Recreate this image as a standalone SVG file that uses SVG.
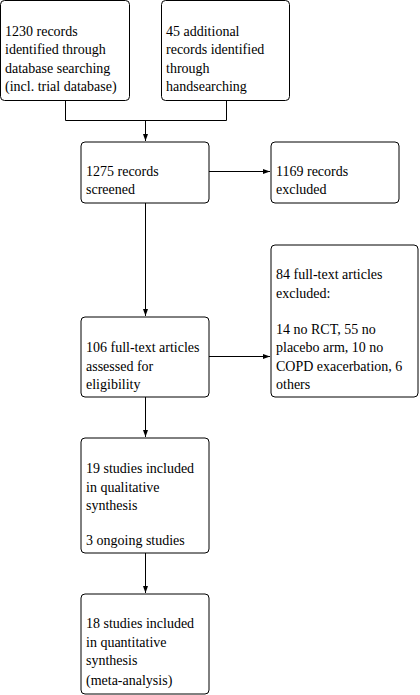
<svg xmlns="http://www.w3.org/2000/svg" width="420" height="695" viewBox="0 0 420 695">
<style>
.box{fill:#fff;stroke:#000;stroke-width:1}
.t{font-family:'Liberation Serif','DejaVu Serif',serif;font-size:14px;fill:#000}
.c{fill:none;stroke:#000;stroke-width:1}
</style>
<defs>
<marker id="ah" markerWidth="8" markerHeight="6" refX="7" refY="3" orient="auto" markerUnits="userSpaceOnUse">
<path d="M0,0.5 L7,3 L0,5.5 Z" fill="#000"/>
</marker>
</defs>
<rect width="420" height="695" fill="#fff"/>
<g id="connectors">
<path class="c" d="M65.5,100 V120.5 H226.5 V100"/>
<path class="c" d="M145.5,120.5 V141" marker-end="url(#ah)"/>
<path class="c" d="M209,171.5 H270" marker-end="url(#ah)"/>
<path class="c" d="M145.5,203 V316" marker-end="url(#ah)"/>
<path class="c" d="M209,356.5 H270" marker-end="url(#ah)"/>
<path class="c" d="M145.5,397 V437" marker-end="url(#ah)"/>
<path class="c" d="M145.5,553 V593" marker-end="url(#ah)"/>
</g>
<g id="n1" class="t" font-family="Liberation Serif, DejaVu Serif, serif">
<rect class="box" x="0.5" y="0.5" width="129" height="100" rx="4"/>
<text x="5" y="36">1230 records</text>
<text x="5" y="54">identified through</text>
<text x="5" y="73">database searching</text>
<text x="5" y="91">(incl. trial database)</text>
</g>
<g id="n2" class="t">
<rect class="box" x="161.5" y="0.5" width="128" height="100" rx="4"/>
<text x="166" y="36">45 additional</text>
<text x="166" y="54">records identified</text>
<text x="166" y="73">through</text>
<text x="166" y="91">handsearching</text>
</g>
<g id="n3" class="t">
<rect class="box" x="81" y="142" width="128" height="61" rx="4"/>
<text x="86" y="176">1275 records</text>
<text x="86" y="194">screened</text>
</g>
<g id="n4" class="t">
<rect class="box" x="271" y="142" width="128" height="61" rx="4"/>
<text x="276" y="176">1169 records</text>
<text x="276" y="194">excluded</text>
</g>
<g id="n5" class="t">
<rect class="box" x="81" y="317" width="128" height="80" rx="4"/>
<text x="86" y="352">106 full-text articles</text>
<text x="86" y="371">assessed for</text>
<text x="86" y="389">eligibility</text>
</g>
<g id="n6" class="t">
<rect class="box" x="271" y="245" width="147" height="152" rx="4"/>
<text x="276" y="279">84 full-text articles</text>
<text x="276" y="298">excluded:</text>
<text x="276" y="334">14 no RCT, 55 no</text>
<text x="276" y="352">placebo arm, 10 no</text>
<text x="276" y="371">COPD exacerbation, 6</text>
<text x="276" y="389">others</text>
</g>
<g id="n7" class="t">
<rect class="box" x="81" y="438" width="128" height="115" rx="4"/>
<text x="86" y="473">19 studies included</text>
<text x="86" y="492">in qualitative</text>
<text x="86" y="510">synthesis</text>
<text x="86" y="545">3 ongoing studies</text>
</g>
<g id="n8" class="t">
<rect class="box" x="81" y="594" width="128" height="100" rx="4"/>
<text x="86" y="628">18 studies included</text>
<text x="86" y="647">in quantitative</text>
<text x="86" y="665">synthesis</text>
<text x="86" y="685">(meta-analysis)</text>
</g>
</svg>
